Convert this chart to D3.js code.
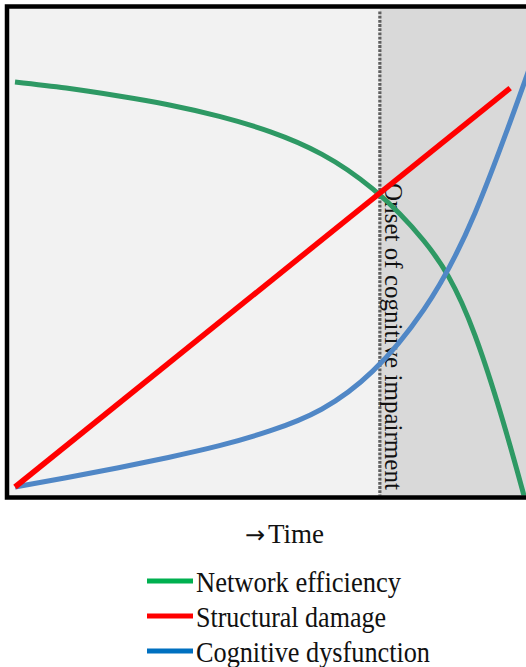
<!DOCTYPE html>
<html>
<head>
<meta charset="utf-8">
<script src="https://cdn.jsdelivr.net/npm/d3@7"></script>
<style>
  html, body { margin: 0; padding: 0; background: #ffffff; }
  svg { display: block; }
  .serif { font-family: "Liberation Serif", "DejaVu Serif", "Noto Serif", "Times New Roman", Times, serif; }
</style>
</head>
<body>
<script>
// ---- data ----
const timePoints = [0, 10, 20, 30, 40, 50, 60, 70, 80, 90, 100, 102];
const networkEfficiency = [100, 98.5, 96.6, 94.4, 91.5, 87.7, 82.2, 73.6, 60.8, 37.5, -4, -15];
const cognitiveDysfunction = [0, 2.3, 4.7, 7.3, 10.2, 13.9, 19.2, 28.6, 43.8, 67.6, 101, 108];
const structuralTime = [0, 96.9];
const structuralDamage = [0, 98.5];
const onsetTime = 71.4;
const seriesNames = ["Network efficiency", "Structural damage", "Cognitive dysfunction"];
const lineColors = ["#2e9964", "#ff0000", "#5087c6"];
const legendColors = ["#00b050", "#ff0000", "#0070c0"];
const axisArrow = "\u2192";
const axisLabel = "Time";
const onsetLabel = "Onset of cognitive impairment";

const W = 526, H = 667;
const svg = d3.select("body").append("svg").attr("width", W).attr("height", H);

const frame = {x0: 7, y0: 6.5, x1: 540, y1: 497.5};
const x = d3.scaleLinear().domain([0, 100]).range([15, 526]);
const y = d3.scaleLinear().domain([0, 100]).range([487, 82]);

// clip
svg.append("defs").append("clipPath").attr("id", "plotclip")
  .append("rect").attr("x", frame.x0 + 2).attr("y", frame.y0 + 2)
  .attr("width", frame.x1 - frame.x0 - 4).attr("height", frame.y1 - frame.y0 - 4);

// backgrounds
svg.append("rect").attr("x", frame.x0).attr("y", frame.y0)
  .attr("width", x(onsetTime) - frame.x0).attr("height", frame.y1 - frame.y0)
  .attr("fill", "#f2f2f2");
svg.append("rect").attr("x", x(onsetTime)).attr("y", frame.y0)
  .attr("width", frame.x1 - x(onsetTime)).attr("height", frame.y1 - frame.y0)
  .attr("fill", "#d9d9d9");

// onset dotted line
svg.append("line")
  .attr("x1", x(onsetTime)).attr("x2", x(onsetTime))
  .attr("y1", frame.y0 + 5).attr("y2", frame.y1 - 2)
  .attr("stroke", "#5f5f5f").attr("stroke-width", 3.2)
  .attr("stroke-dasharray", "2.8,1.4");

// onset label
svg.append("text").attr("class", "serif")
  .attr("transform", `translate(${x(onsetTime) + 5},183) rotate(90)`)
  .attr("font-size", 25).attr("fill", "#111")
  .attr("textLength", 307).attr("lengthAdjust", "spacingAndGlyphs")
  .text(onsetLabel);

const g = svg.append("g").attr("clip-path", "url(#plotclip)");
const lineGen = d3.line().x(d => x(d[0])).y(d => y(d[1])).curve(d3.curveNatural);

g.append("path")
  .datum(d3.zip(timePoints, networkEfficiency))
  .attr("d", lineGen).attr("fill", "none")
  .attr("stroke", lineColors[0]).attr("stroke-width", 5);

g.append("path")
  .datum(d3.zip(timePoints, cognitiveDysfunction))
  .attr("d", lineGen).attr("fill", "none")
  .attr("stroke", lineColors[2]).attr("stroke-width", 5);

g.append("path")
  .datum(d3.zip(structuralTime, structuralDamage))
  .attr("d", d3.line().x(d => x(d[0])).y(d => y(d[1])))
  .attr("fill", "none")
  .attr("stroke", lineColors[1]).attr("stroke-width", 5.5);

// frame
svg.append("rect").attr("x", frame.x0).attr("y", frame.y0)
  .attr("width", frame.x1 - frame.x0).attr("height", frame.y1 - frame.y0)
  .attr("fill", "none").attr("stroke", "#000").attr("stroke-width", 4.5);

// axis label
const tl = svg.append("text").attr("class", "serif").attr("x", 245).attr("y", 543)
  .attr("font-size", 27).attr("fill", "#111");
tl.append("tspan").attr("font-family", "DejaVu Sans").attr("font-size", 24).text(axisArrow);
tl.append("tspan").attr("x", 268).text(axisLabel);

// legend
const legendY = [592, 627, 662];
const legendW = [205, 190, 234];
const leg = svg.append("g");
seriesNames.forEach((name, i) => {
  leg.append("line")
    .attr("x1", 147).attr("x2", 193)
    .attr("y1", legendY[i] - 11).attr("y2", legendY[i] - 11)
    .attr("stroke", legendColors[i]).attr("stroke-width", 5);
  leg.append("text").attr("class", "serif").attr("x", 196).attr("y", legendY[i])
    .attr("fill", "#111").attr("font-size", 29)
    .attr("textLength", legendW[i]).attr("lengthAdjust", "spacingAndGlyphs")
    .text(name);
});
</script>
</body>
</html>
